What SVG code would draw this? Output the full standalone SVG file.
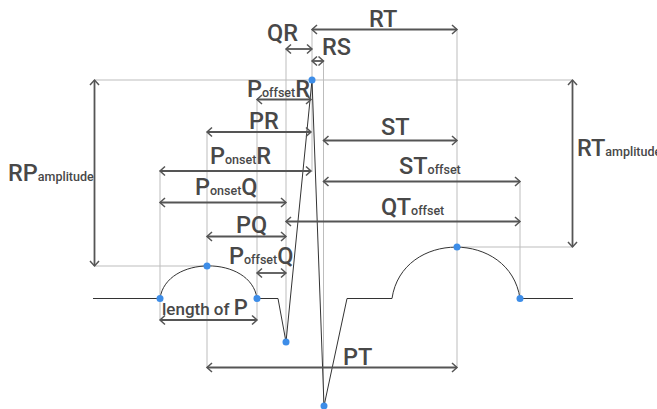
<svg xmlns="http://www.w3.org/2000/svg" width="657" height="409" viewBox="0 0 657 409">
<style>
.g{stroke:#bdbdbd;stroke-width:1;fill:none}
.a{stroke:#555;stroke-width:1.8;fill:none;marker-start:url(#ah);marker-end:url(#ah)}
.w{stroke:#333;stroke-width:1;fill:none}
.d{fill:#3d8de8}
.t{font-family:Roboto,"Liberation Sans",sans-serif;font-weight:500;font-size:23.5px;fill:#484848}
.s{font-size:12.5px}
.m{font-size:17px}
.p{font-size:22px}
</style>
<defs>
<marker id="ah" markerUnits="userSpaceOnUse" markerWidth="10" markerHeight="12" refX="6" refY="5" orient="auto-start-reverse" overflow="visible">
<path d="M1,0.5 L6,5 L1,9.5" fill="none" stroke="#555" stroke-width="1.5"/>
</marker>
</defs>
<g id="guides" class="g">
<path d="M94,80 H572 M94,266 H207 M457,247 H572"/>
<path d="M160,170 V320 M207,132 V368 M257,99 V320 M286,49 V342 M312,29 V172 M323.5,61 V406 M457,29 V368 M520,181 V298"/>
</g>
<g id="waveform">
<path class="w" d="M93,298.5 L160,298.5 C166,255 251,255 257,298.5 L278,298.5 L286,342 L312,80 L324,406 L347,298.5 L392,298.5 C402,230 510,230 520,298.5 L573,298.5"/>
</g>
<g id="connectors">
<path class="a" d="M94.5,80 V266"/>
<path class="a" d="M572.5,80 V247"/>
<path class="a" d="M312,29.5 H457"/>
<path class="a" d="M286,49 H312"/>
<path class="a" d="M312,61 H323.5"/>
<path class="a" d="M257,99.5 H311"/>
<path class="a" d="M207,132 H311"/>
<path class="a" d="M160,171 H311"/>
<path class="a" d="M160,202.5 H286"/>
<path class="a" d="M207,236.5 H286"/>
<path class="a" d="M257,273 H286"/>
<path class="a" d="M160,320 H257"/>
<path class="a" d="M323.5,140.5 H457"/>
<path class="a" d="M323.5,181.5 H520"/>
<path class="a" d="M286,221.5 H520"/>
<path class="a" d="M207,367.5 H457"/>
</g>
<g id="p-onset"><circle class="d" cx="160" cy="298.5" r="3.5"/></g>
<g id="p-peak"><circle class="d" cx="207" cy="266" r="3.5"/></g>
<g id="p-offset"><circle class="d" cx="257" cy="298.5" r="3.5"/></g>
<g id="q"><circle class="d" cx="286" cy="342" r="3.5"/></g>
<g id="r"><circle class="d" cx="312" cy="80" r="3.5"/></g>
<g id="s"><circle class="d" cx="324" cy="406" r="3.5"/></g>
<g id="t-peak"><circle class="d" cx="457" cy="247" r="3.5"/></g>
<g id="t-offset"><circle class="d" cx="520" cy="298.5" r="3.5"/></g>
<g id="labels" class="t">
<text id="l-rt" x="369" y="26.5">RT</text>
<text id="l-qr" x="267" y="40.5">QR</text>
<text id="l-rs" x="322" y="55">RS</text>
<text id="l-poffr" x="247" y="96.5">P<tspan class="s">offset</tspan>R</text>
<text id="l-pr" x="249" y="128.5">PR</text>
<text id="l-ponr" x="210" y="164">P<tspan class="s">onset</tspan>R</text>
<text id="l-ponq" x="195" y="195">P<tspan class="s">onset</tspan>Q</text>
<text id="l-pq" x="236" y="233">PQ</text>
<text id="l-poffq" x="229" y="264">P<tspan class="s">offset</tspan>Q</text>
<text id="l-lenp" x="162" y="315"><tspan class="m">length of </tspan><tspan class="p">P</tspan></text>
<text id="l-st" x="381" y="135">ST</text>
<text id="l-stoff" x="399" y="173.5">ST<tspan class="s">offset</tspan></text>
<text id="l-qtoff" x="381" y="215">QT<tspan class="s">offset</tspan></text>
<text id="l-pt" x="343" y="365">PT</text>
<text id="l-rpamp" x="8" y="180.5">RP<tspan class="s">amplitude</tspan></text>
<text id="l-rtamp" x="577" y="156">RT<tspan class="s">amplitude</tspan></text>
</g>
</svg>
